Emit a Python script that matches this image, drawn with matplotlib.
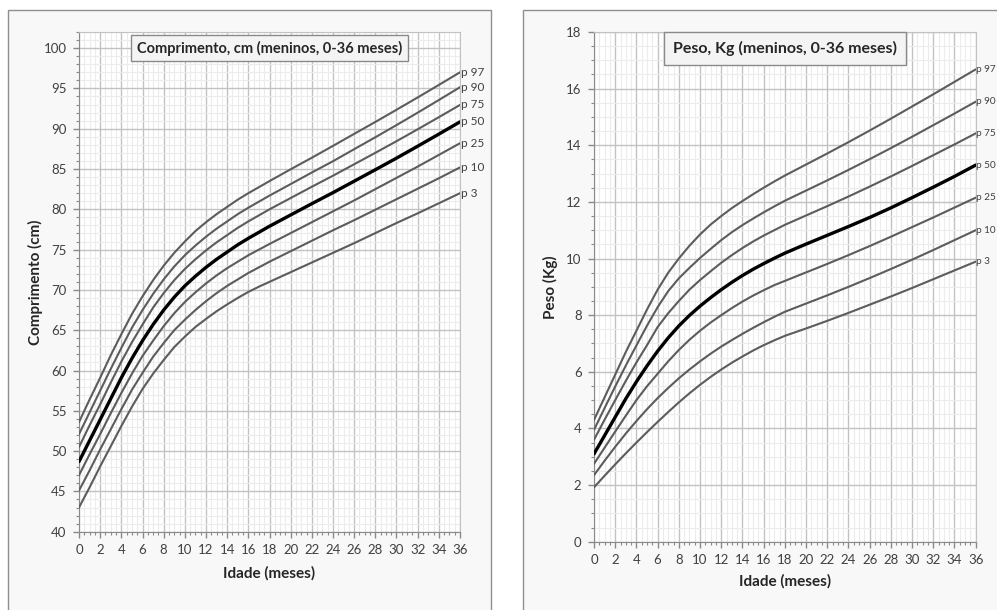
import matplotlib
matplotlib.use("Agg")
import matplotlib.pyplot as plt
from matplotlib.patches import Rectangle
from matplotlib.ticker import MultipleLocator

plt.rcParams['font.family'] = ['Lato', 'DejaVu Sans']

# Idade em meses
meses = [0, 1, 2, 3, 4, 5, 6, 7, 8, 9, 10, 11, 12, 13, 14, 15, 16, 17, 18,
         20, 22, 24, 26, 28, 30, 32, 34, 36]
percentis = ['p 3', 'p 10', 'p 25', 'p 50', 'p 75', 'p 90', 'p 97']

# Comprimento (cm)
comp_p3 = [43.0, 45.5, 48.1, 50.6, 53.1, 55.5, 57.7, 59.6, 61.3, 62.9, 64.2, 65.4, 66.4, 67.35,
           68.2, 69.0, 69.75, 70.4, 71.0, 72.2, 73.4, 74.6, 75.8, 77.05, 78.3, 79.5, 80.75, 82.0]
comp_p10 = [45.1, 47.6, 50.2, 52.7, 55.2, 57.6, 59.7, 61.7, 63.4, 65.0, 66.3, 67.5, 68.6, 69.6,
            70.5, 71.3, 72.1, 72.8, 73.5, 74.8, 76.1, 77.4, 78.65, 79.95, 81.25, 82.55, 83.85, 85.2]
comp_p25 = [47.0, 49.6, 52.1, 54.7, 57.2, 59.6, 61.8, 63.7, 65.5, 67.1, 68.5, 69.7, 70.8, 71.8,
            72.7, 73.5, 74.3, 75.0, 75.7, 77.05, 78.4, 79.75, 81.1, 82.5, 83.9, 85.3, 86.75, 88.2]
comp_p50 = [48.7, 51.3, 53.9, 56.5, 59.1, 61.5, 63.7, 65.7, 67.5, 69.1, 70.5, 71.7, 72.8, 73.8,
            74.7, 75.6, 76.4, 77.15, 77.9, 79.3, 80.7, 82.07, 83.49, 84.91, 86.35, 87.83, 89.33, 90.85]
comp_p75 = [50.5, 53.2, 55.8, 58.5, 61.1, 63.5, 65.7, 67.8, 69.6, 71.2, 72.6, 73.8, 74.9, 75.9,
            76.8, 77.7, 78.5, 79.25, 80.0, 81.4, 82.8, 84.17, 85.59, 87.01, 88.45, 89.93, 91.43, 92.95]
comp_p90 = [52.1, 54.8, 57.5, 60.2, 62.8, 65.3, 67.5, 69.5, 71.3, 72.9, 74.3, 75.5, 76.6, 77.6,
            78.5, 79.4, 80.2, 80.95, 81.7, 83.13, 84.57, 85.97, 87.46, 88.94, 90.45, 91.99, 93.56, 95.15]
comp_p97 = [53.6, 56.4, 59.1, 61.9, 64.5, 67.0, 69.2, 71.2, 73.0, 74.6, 76.0, 77.3, 78.4, 79.4,
            80.3, 81.2, 82.0, 82.75, 83.5, 84.97, 86.4, 87.87, 89.36, 90.84, 92.35, 93.88, 95.43, 97.0]

# Peso (Kg)
peso_p3 = [1.92, 2.33, 2.73, 3.12, 3.5, 3.87, 4.23, 4.58, 4.92, 5.24, 5.54, 5.82, 6.08, 6.32,
           6.54, 6.75, 6.94, 7.11, 7.27, 7.53, 7.8, 8.08, 8.37, 8.66, 8.96, 9.27, 9.58, 9.89]
peso_p10 = [2.35, 2.86, 3.35, 3.82, 4.26, 4.68, 5.07, 5.43, 5.77, 6.08, 6.37, 6.64, 6.89, 7.12,
            7.34, 7.55, 7.75, 7.94, 8.12, 8.41, 8.7, 9.0, 9.31, 9.63, 9.96, 10.3, 10.65, 11.0]
peso_p25 = [2.75, 3.32, 3.89, 4.45, 5.0, 5.49, 5.93, 6.37, 6.77, 7.13, 7.45, 7.74, 8.0, 8.25,
            8.48, 8.69, 8.88, 9.06, 9.21, 9.51, 9.81, 10.12, 10.44, 10.77, 11.11, 11.45, 11.8, 12.15]
peso_p50 = [3.1, 3.75, 4.4, 5.05, 5.65, 6.21, 6.73, 7.2, 7.62, 7.99, 8.32, 8.62, 8.9, 9.16,
            9.4, 9.62, 9.82, 10.01, 10.19, 10.51, 10.82, 11.13, 11.45, 11.79, 12.15, 12.52, 12.9, 13.3]
peso_p75 = [3.6, 4.31, 5.0, 5.68, 6.33, 6.94, 7.58, 8.07, 8.5, 8.9, 9.24, 9.55, 9.85, 10.12,
            10.37, 10.6, 10.81, 11.0, 11.19, 11.52, 11.85, 12.19, 12.54, 12.9, 13.27, 13.65, 14.03, 14.42]
peso_p90 = [3.95, 4.72, 5.48, 6.22, 6.93, 7.63, 8.28, 8.85, 9.3, 9.67, 10.02, 10.34, 10.65, 10.93,
            11.18, 11.41, 11.63, 11.84, 12.04, 12.4, 12.76, 13.13, 13.51, 13.9, 14.3, 14.71, 15.12, 15.54]
peso_p97 = [4.3, 5.1, 5.9, 6.7, 7.45, 8.2, 8.9, 9.5, 10.0, 10.45, 10.85, 11.2, 11.5, 11.78,
            12.03, 12.27, 12.5, 12.72, 12.93, 13.32, 13.71, 14.11, 14.52, 14.94, 15.37, 15.8, 16.24, 16.68]

comprimento = [comp_p3, comp_p10, comp_p25, comp_p50, comp_p75, comp_p90, comp_p97]
peso = [peso_p3, peso_p10, peso_p25, peso_p50, peso_p75, peso_p90, peso_p97]

W, H = 997, 610
fig = plt.figure(figsize=(W / 100, H / 100), dpi=100)
fig.patch.set_facecolor('white')

# Caixas de fundo de cada grafico (eixo de fundo, sem marcas)
fundo = fig.add_axes([0, 0, 1, 1], zorder=-10)
fundo.set_xlim(0, W)
fundo.set_ylim(H, 0)
fundo.axis('off')
for x0, x1 in [(8, 491), (523, 1005)]:
    fundo.add_patch(Rectangle((x0, 10), x1 - x0, H + 10, facecolor='#f8f8f8',
                              edgecolor='#8f8f8f', linewidth=1.0))


def desenhar(ax, series, ylim, maior_y, menor_y, ylabel, titulo, ylabel_x, xlabel_y,
             titulo_size, titulo_pad, rotulo_size):
    ax.set_facecolor('white')
    for s, nome in zip(series, percentis):
        if nome == 'p 50':
            ax.plot(meses, s, color='black', linewidth=2.4, zorder=4, solid_capstyle='round')
        else:
            ax.plot(meses, s, color='#5c5c5c', linewidth=1.5, zorder=3, solid_capstyle='round')
        ax.text(36.05, s[-1], nome, fontsize=rotulo_size, color='#404040', va='center',
                ha='left', clip_on=False)

    ax.set_xlim(0, 36)
    ax.set_ylim(*ylim)
    ax.xaxis.set_major_locator(MultipleLocator(2))
    ax.xaxis.set_minor_locator(MultipleLocator(0.5))
    ax.yaxis.set_major_locator(MultipleLocator(maior_y))
    ax.yaxis.set_minor_locator(MultipleLocator(menor_y))
    ax.grid(which='major', color='#c2c2c2', linewidth=1.0, zorder=1)
    ax.grid(which='minor', color='#ececec', linewidth=0.8, zorder=0)
    ax.set_axisbelow(True)

    ax.tick_params(which='major', direction='out', length=4.5, width=1, color='#8a8a8a',
                   labelsize=9.5, labelcolor='#404040', pad=4.5)
    ax.tick_params(which='minor', direction='out', length=2.5, width=0.8, color='#8a8a8a')
    for lado in ['top', 'right']:
        ax.spines[lado].set_color('#c2c2c2')
    for lado in ['left', 'bottom']:
        ax.spines[lado].set_color('#8a8a8a')

    ax.set_xlabel('Idade (meses)', fontsize=11, fontweight='bold', color='#262626')
    ax.set_ylabel(ylabel, fontsize=11, fontweight='bold', color='#262626')
    ax.xaxis.set_label_coords(0.5, xlabel_y)
    ax.yaxis.set_label_coords(ylabel_x, 0.5)

    ax.text(0.5, 0.968, titulo, transform=ax.transAxes, ha='center', va='center',
            fontsize=titulo_size, fontweight='bold', color='#262626', zorder=6,
            bbox=dict(boxstyle='square,pad=%s' % titulo_pad, facecolor='#f4f4f4',
                      edgecolor='#8a8a8a', linewidth=1.0))


ax1 = fig.add_axes([79 / W, (H - 531.7) / H, 381 / W, 499.7 / H])
desenhar(ax1, comprimento, (40, 102), 5, 1, 'Comprimento (cm)',
         'Comprimento, cm (meninos, 0-36 meses)', -0.094, -0.069, 10.5, 0.4, 8.5)

ax2 = fig.add_axes([594 / W, (H - 541.7) / H, 381.7 / W, 509.7 / H])
desenhar(ax2, peso, (0, 18), 2, 0.5, 'Peso (Kg)',
         'Peso, Kg (meninos, 0-36 meses)', -0.094, -0.063, 11.5, 0.55, 7.2)

fig.savefig('out.png', dpi=100)
